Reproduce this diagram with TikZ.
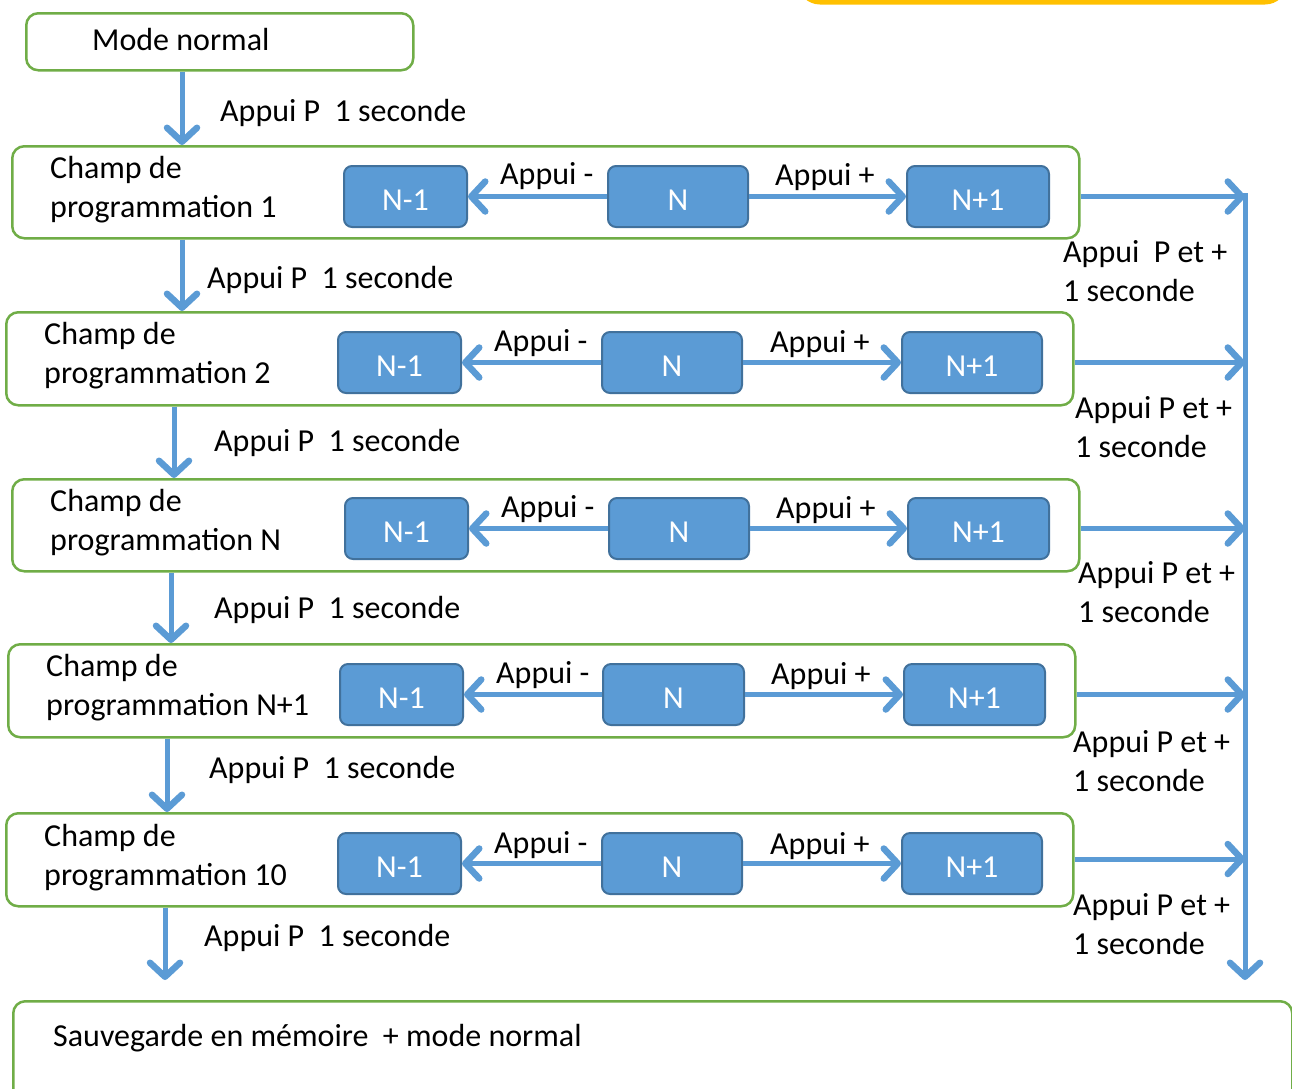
\documentclass[tikz,border=0pt]{standalone}
\usepackage{fontspec}
\setmainfont{Carlito}
\usetikzlibrary{arrows.meta}
\definecolor{gr}{HTML}{70AD47}
\definecolor{bl}{HTML}{5B9BD5}
\definecolor{bbord}{HTML}{41719C}
\definecolor{yel}{HTML}{FFC000}
\newcommand{\fs}{\fontsize{32}{39}\selectfont}
\begin{document}
\begin{tikzpicture}[x=1pt,y=-1pt,
 gbox/.style={draw=gr, line width=2.5pt, rounded corners=12pt, anchor=north west, inner sep=0pt},
 bbox/.style={draw=bbord, fill=bl, line width=2pt, rounded corners=8pt, anchor=north west, minimum height=61pt, text=white, font=\fs, inner sep=0pt, text height=27pt, text depth=0pt},
 txt/.style={anchor=base west, inner sep=0pt, font=\fs},
 arr/.style={draw=bl, line width=5pt, -{Straight Barb[length=14pt,width=30pt,round,line width=6.5pt]}}
]
\useasboundingbox (0,0) rectangle (1292,1088);
% yellow partial box
\draw[yel, line width=5pt, rounded corners=20pt] (800,-60) rectangle (1285,2);

% Mode normal
\node[gbox, minimum width=387pt, minimum height=57pt] (mode) at (25,12) {};
\node[txt] (tmode) at (92,50) {Mode normal};

% Row 1
\node[gbox, minimum width=1067pt, minimum height=92pt] (b1) at (11,145) {};
\node[txt] (t1a) at (50,178) {Champ de};
\node[txt] (t1b) at (50,217) {programmation 1};
\node[bbox, minimum width=123pt] (r1m) at (343,165) {N-1};
\node[bbox, minimum width=140pt] (r1n) at (607,165) {N};
\node[bbox, minimum width=142pt] (r1p) at (906,165) {N+1};
\node[txt] (l1m) at (500,184) {Appui -};
\node[txt] (l1p) at (775,185) {Appui +};
\node[txt] (s1a) at (1063,262) {Appui \ P et +};
\node[txt] (s1b) at (1063,301) {1 seconde};
\node[txt] (d0) at (220,121) {Appui P \ 1 seconde};

% Row 2
\node[gbox, minimum width=1067pt, minimum height=93pt] (b2) at (5,311) {};
\node[txt] (t2a) at (44,344) {Champ de};
\node[txt] (t2b) at (44,383) {programmation 2};
\node[bbox, minimum width=123pt] (r2m) at (337,331) {N-1};
\node[bbox, minimum width=140pt] (r2n) at (601,331) {N};
\node[bbox, minimum width=140pt] (r2p) at (901,331) {N+1};
\node[txt] (l2m) at (494,351) {Appui -};
\node[txt] (l2p) at (770,352) {Appui +};
\node[txt] (s2a) at (1075,418) {Appui P et +};
\node[txt] (s2b) at (1075,457) {1 seconde};
\node[txt] (d1) at (207,288) {Appui P \ 1 seconde};

% Row 3
\node[gbox, minimum width=1067pt, minimum height=92pt] (b3) at (11,478) {};
\node[txt] (t3a) at (50,511) {Champ de};
\node[txt] (t3b) at (50,550) {programmation N};
\node[bbox, minimum width=123pt] (r3m) at (344,497) {N-1};
\node[bbox, minimum width=140pt] (r3n) at (608,497) {N};
\node[bbox, minimum width=141pt] (r3p) at (907,497) {N+1};
\node[txt] (l3m) at (501,517) {Appui -};
\node[txt] (l3p) at (776,518) {Appui +};
\node[txt] (s3a) at (1078,583) {Appui P et +};
\node[txt] (s3b) at (1078,622) {1 seconde};
\node[txt] (d2) at (214,451) {Appui P \ 1 seconde};

% Row 4
\node[gbox, minimum width=1067pt, minimum height=93pt] (b4) at (7,643) {};
\node[txt] (t4a) at (46,676) {Champ de};
\node[txt] (t4b) at (46,715) {programmation N+1};
\node[bbox, minimum width=123pt] (r4m) at (339,663) {N-1};
\node[bbox, minimum width=141pt] (r4n) at (602,663) {N};
\node[bbox, minimum width=141pt] (r4p) at (903,663) {N+1};
\node[txt] (l4m) at (496,683) {Appui -};
\node[txt] (l4p) at (771,684) {Appui +};
\node[txt] (s4a) at (1073,752) {Appui P et +};
\node[txt] (s4b) at (1073,791) {1 seconde};
\node[txt] (d3) at (214,618) {Appui P \ 1 seconde};

% Row 5
\node[gbox, minimum width=1067pt, minimum height=93pt] (b5) at (5,812) {};
\node[txt] (t5a) at (44,846) {Champ de};
\node[txt] (t5b) at (44,885) {programmation 10};
\node[bbox, minimum width=123pt] (r5m) at (337,832) {N-1};
\node[bbox, minimum width=140pt] (r5n) at (601,832) {N};
\node[bbox, minimum width=140pt] (r5p) at (901,832) {N+1};
\node[txt] (l5m) at (494,853) {Appui -};
\node[txt] (l5p) at (770,854) {Appui +};
\node[txt] (s5a) at (1073,915) {Appui P et +};
\node[txt] (s5b) at (1073,954) {1 seconde};
\node[txt] (d4) at (209,778) {Appui P \ 1 seconde};

% Final
\node[txt] (d5) at (204,946) {Appui P \ 1 seconde};
\node[gbox, minimum width=1279pt, minimum height=120pt] (fin) at (12,1000) {};
\node[txt] (tfin) at (53,1046) {Sauvegarde en mémoire \ + mode normal};

% coordinates
\coordinate (vtop) at (1245,193);
\coordinate (vbot) at (1245,980);
\coordinate (dend) at (165,980);

% down arrows
\draw[arr] (182,0 |- mode.south) -- (182,0 |- b1.north);
\draw[arr] (182,0 |- b1.south) -- (182,0 |- b2.north);
\draw[arr] (174,0 |- b2.south) -- (174,0 |- b3.north);
\draw[arr] (171,0 |- b3.south) -- (171,0 |- b4.north);
\draw[arr] (167,0 |- b4.south) -- (167,0 |- b5.north);
\draw[arr] (165,0 |- b5.south) -- (dend);

% inner arrows
\foreach \r in {1,...,5}{
  \draw[arr] (r\r n) -- (r\r m);
  \draw[arr] (r\r n) -- (r\r p);
}

% right arrows
\draw[arr] (b1.east |- r1p.east) -- (vtop |- r1p.east);
\draw[arr] (b2.east |- r2p.east) -- (vtop |- r2p.east);
\draw[arr] (b3.east |- r3p.east) -- (vtop |- r3p.east);
\draw[arr] (b4.east |- r4p.east) -- (vtop |- r4p.east);
\draw[arr] (b5.east |- 0,859) -- (vtop |- 0,859);
\draw[arr] (vtop) -- (vbot);
\end{tikzpicture}
\end{document}
